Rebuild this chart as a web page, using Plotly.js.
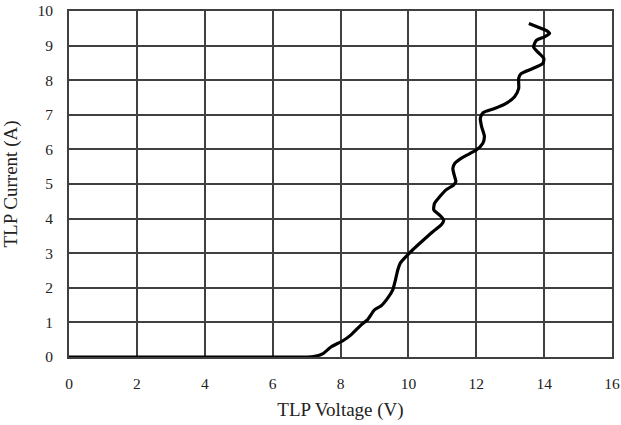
<!DOCTYPE html>
<html>
<head>
<meta charset="utf-8">
<script src="https://cdn.plot.ly/plotly-3.0.1.min.js"></script>
<style>html,body{margin:0;padding:0;background:#fff;}#chart{width:621px;height:425px;}</style>
</head>
<body>
<div id="chart"></div>
<script>
const voltage = [0, 7.0, 7.2, 7.47, 7.72, 8.07, 8.31, 8.61, 8.80, 9.0, 9.2, 9.39, 9.54, 9.62, 9.69, 9.76, 9.88, 10.13, 10.42, 10.72, 10.97, 11.04, 10.92, 10.75, 10.77, 10.92, 11.11, 11.33, 11.40, 11.35, 11.31, 11.37, 11.60, 12.0, 12.19, 12.24, 12.16, 12.12, 12.2, 12.54, 12.88, 13.13, 13.25, 13.25, 13.32, 13.67, 13.96, 13.99, 13.81, 13.69, 13.77, 14.01, 14.16, 14.06, 13.81, 13.55];
const current = [0, 0, 0.01, 0.09, 0.29, 0.47, 0.64, 0.93, 1.08, 1.36, 1.48, 1.70, 1.94, 2.23, 2.52, 2.71, 2.85, 3.10, 3.36, 3.62, 3.82, 3.96, 4.10, 4.25, 4.44, 4.63, 4.83, 4.97, 5.07, 5.26, 5.45, 5.60, 5.77, 5.98, 6.17, 6.38, 6.65, 6.90, 7.06, 7.18, 7.33, 7.52, 7.76, 8.05, 8.19, 8.34, 8.48, 8.63, 8.82, 8.96, 9.15, 9.25, 9.35, 9.44, 9.54, 9.64];
const xTicks = [0, 2, 4, 6, 8, 10, 12, 14, 16];
const yTicks = [0, 1, 2, 3, 4, 5, 6, 7, 8, 9, 10];

const trace = {
  x: voltage, y: current, type: 'scatter', mode: 'lines',
  line: {color: '#000', width: 3.2, shape: 'spline', smoothing: 0.6},
  hoverinfo: 'skip', cliponaxis: false
};
const serif = 'Liberation Serif, Times New Roman, serif';
const layout = {
  width: 621, height: 425,
  margin: {l: 69, r: 9, t: 11, b: 68, pad: 0},
  paper_bgcolor: '#fff', plot_bgcolor: '#fff',
  showlegend: false,
  xaxis: {
    range: [0, 16], tickvals: xTicks, ticktext: xTicks.map(String),
    showgrid: true, gridcolor: '#404040', gridwidth: 2,
    showline: true, linecolor: '#404040', linewidth: 2, mirror: true,
    zeroline: false, ticks: '', ticklabelstandoff: 11,
    tickfont: {family: serif, size: 15.5, color: '#222'},
    title: {text: 'TLP Voltage (V)', font: {family: serif, size: 19, color: '#222'}, standoff: 12}
  },
  yaxis: {
    range: [0, 10], tickvals: yTicks, ticktext: yTicks.map(String),
    showgrid: true, gridcolor: '#404040', gridwidth: 2,
    showline: true, linecolor: '#404040', linewidth: 2, mirror: true,
    zeroline: false, ticks: '', ticklabelstandoff: 11,
    tickfont: {family: serif, size: 15.5, color: '#222'},
    title: {text: 'TLP Current (A)', font: {family: serif, size: 19, color: '#222'}, standoff: 16}
  }
};
Plotly.newPlot('chart', [trace], layout, {displayModeBar: false, staticPlot: true});
</script>
</body>
</html>
